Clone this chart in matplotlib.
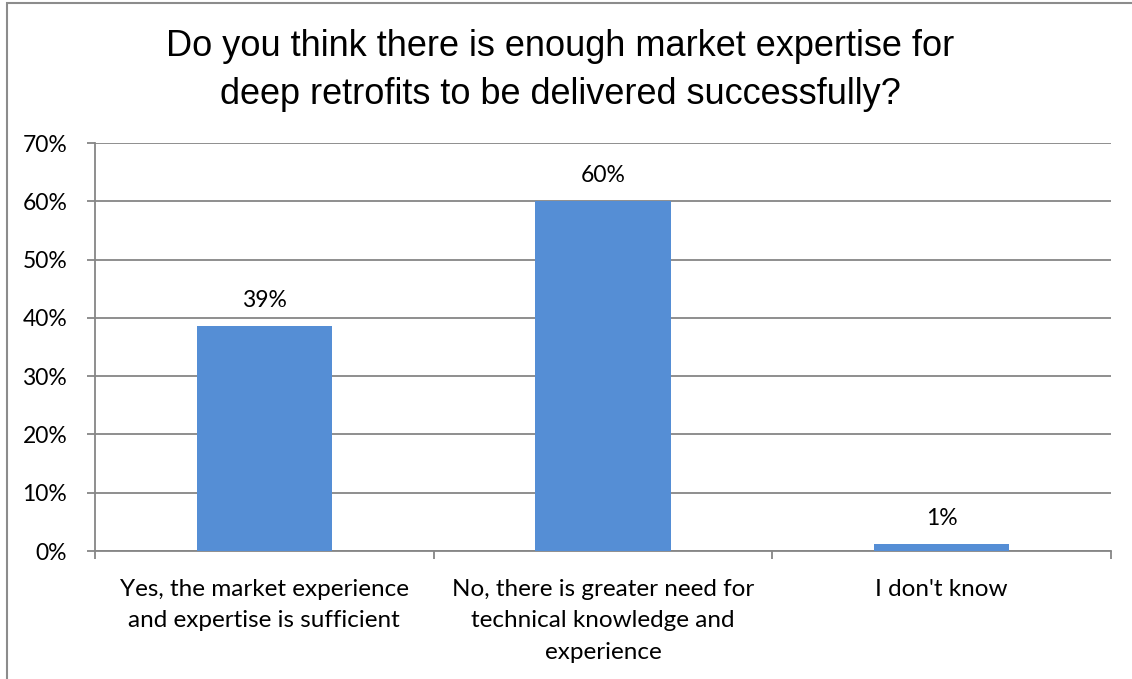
import numpy as np
import matplotlib.pyplot as plt
from matplotlib.patches import Rectangle

# survey answers and share of respondents
answers = ["Yes, the market experience\nand expertise is sufficient",
           "No, there is greater need for\ntechnical knowledge and\nexperience",
           "I don't know"]
shares = [0.386, 0.600, 0.012]
yticks = [0.0, 0.1, 0.2, 0.3, 0.4, 0.5, 0.6, 0.7]
title = ["Do you think there is enough market expertise for",
         "deep retrofits to be delivered successfully?"]

bar_col = "#558ED5"
grid_col = "#868686"
lab_font = "Lato"

fig = plt.figure(figsize=(11.32, 6.79), dpi=100)
W, H = 1132, 679
ax = fig.add_axes([95 / W, 1 - 551 / H, (1111 - 95) / W, (551 - 143) / H])

x = np.arange(len(answers))
ax.bar(x, shares, width=0.4, color=bar_col, zorder=3)
for xi, v in zip(x, shares):
    ax.text(xi, v + 0.026, "{:.0%}".format(v), ha="center", va="bottom",
            fontsize=16.5, family=lab_font)

ax.set_xlim(-0.5, len(answers) - 0.5)
ax.set_ylim(0, 0.7)
ax.set_yticks(yticks)
ax.set_yticklabels(["{:.0%}".format(t) for t in yticks], family=lab_font, fontsize=16.5)
ax.yaxis.grid(True, color=grid_col, linewidth=1.3, zorder=0)
ax.tick_params(axis="y", length=6, width=1.3, color=grid_col, pad=14)

# category boundary ticks on the x axis, labels centred between them
ax.set_xticks(np.arange(len(answers) + 1) - 0.5)
ax.set_xticklabels([])
ax.set_xticks(x, minor=True)
ax.set_xticklabels(answers, minor=True, family=lab_font, fontsize=17.5, linespacing=1.62)
ax.tick_params(axis="x", which="major", length=6, width=1.3, color=grid_col)
ax.tick_params(axis="x", which="minor", length=0, pad=20)

for s in ["top", "right"]:
    ax.spines[s].set_visible(False)
for s in ["left", "bottom"]:
    ax.spines[s].set_color(grid_col)
    ax.spines[s].set_linewidth(1.3)

for line, ypix in zip(title, [47, 95]):
    fig.text(560 / W, 1 - ypix / H, line, ha="center", va="center", fontsize=26,
             family="Liberation Sans")

# chart frame
fig.patches.append(Rectangle((7 / W, -0.1), 1.2, 1 - 3 / H + 0.1, transform=fig.transFigure,
                             fill=False, edgecolor="#8c8c8c", linewidth=1.5))

fig.savefig("out.png", dpi=100)
